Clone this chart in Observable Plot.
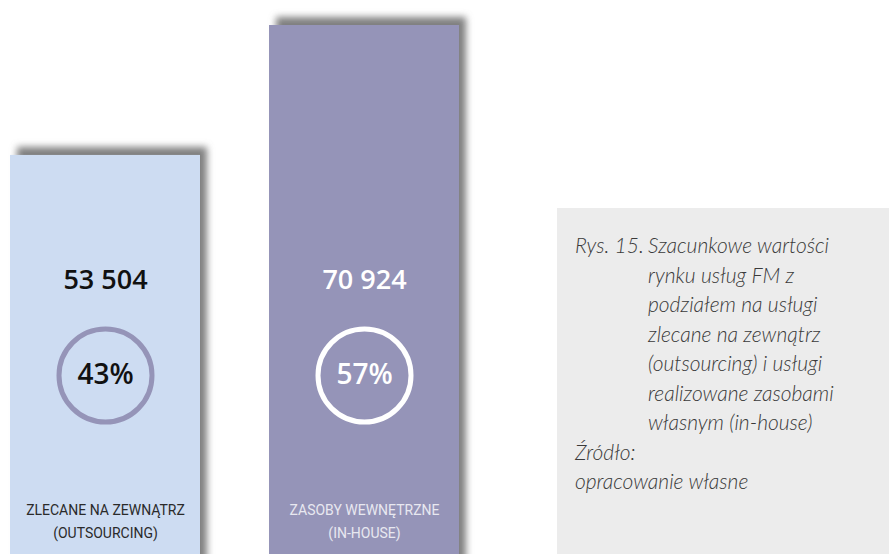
<!DOCTYPE html>
<html>
<head>
<meta charset="utf-8">
<script src="https://cdn.jsdelivr.net/npm/d3@7"></script>
<script src="https://cdn.jsdelivr.net/npm/@observablehq/plot@0.6"></script>
<style>
  body { margin: 0; background: #fff; }
  #wrap { position: relative; width: 889px; height: 554px; overflow: hidden; }
  #wrap svg { position: absolute; left: 0; top: 0; }
  #cap {
    position: absolute; left: 557px; top: 208px; width: 332px; height: 346px;
    background: #ececec; box-sizing: border-box; padding: 22px 0 0 18px;
    font-family: Lato, "Open Sans", sans-serif; font-style: italic; font-weight: 300;
    font-size: 21px; line-height: 29.5px; color: #3a3a3a;
  }
  #cap .row { display: flex; }
  #cap .lab { width: 73px; flex: none; white-space: nowrap; }
</style>
</head>
<body>
<div id="wrap">
  <div id="cap">
    <div class="row"><span class="lab">Rys. 15.</span><span id="capText"></span></div>
    <div id="capSource"></div>
  </div>
</div>
<script>
const categories = ["outsourcing", "in-house"];
const values = [53504, 70924];
const valueLabels = ["53 504", "70 924"];
const shares = ["43%", "57%"];
const categoryLabels = ["ZLECANE NA ZEWNĄTRZ\n(OUTSOURCING)", "ZASOBY WEWNĘTRZNE\n(IN-HOUSE)"];
const barColors = ["#cddcf2", "#9594b8"];
const numberColors = ["#111111", "#ffffff"];
const ringColors = ["#9594b8", "#ffffff"];
const labelColors = ["#2a2a2a", "#e8e8f0"];
const captionLines = ["Szacunkowe wartości", "rynku usług FM z", "podziałem na usługi", "zlecane na zewnątrz", "(outsourcing) i usługi", "realizowane zasobami", "własnym (in-house)"];
const sourceLines = ["Źródło:", "opracowanie własne"];

document.getElementById("capText").innerHTML = captionLines.join("<br>");
document.getElementById("capSource").innerHTML = sourceLines.join("<br>");

const data = categories.map((c, i) => ({
  c, v: values[i], vl: valueLabels[i], s: shares[i], lab: categoryLabels[i],
  bar: barColors[i], num: numberColors[i], ring: ringColors[i], lc: labelColors[i]
}));

const chart = Plot.plot({
  width: 889, height: 554,
  marginLeft: 10, marginRight: 430, marginTop: 25, marginBottom: 0,
  style: { fontFamily: "Open Sans, sans-serif", background: "transparent" },
  x: { type: "band", domain: categories, paddingInner: 69 / 259, paddingOuter: 0, axis: null },
  y: { domain: [0, 70924], axis: null },
  color: { type: "identity" },
  marks: [
    Plot.barY(data, { x: "c", y: "v", fill: "#808080", dx: 7, dy: -8, insetBottom: -30 }),
    Plot.barY(data, { x: "c", y: "v", fill: "bar" }),
    Plot.text(data, { x: "c", text: "vl", frameAnchor: "bottom", lineAnchor: "middle", dy: -274, fill: "num", fontSize: 27, fontWeight: 600 }),
    Plot.dot(data, { x: "c", frameAnchor: "bottom", dy: -179, r: 46.5, stroke: "ring", strokeWidth: 5, fill: "none" }),
    Plot.text(data, { x: "c", text: "s", frameAnchor: "bottom", lineAnchor: "middle", dy: -179, fill: "num", fontSize: 28, fontWeight: 600 }),
    Plot.text(data, { x: "c", text: "lab", frameAnchor: "bottom", lineAnchor: "middle", dy: -35, lineHeight: 1.65, fill: "lc", fontSize: 14, fontFamily: "Roboto", fontWeight: 400 })
  ]
});
const svg = d3.select(chart);
svg.insert("defs", ":first-child").append("filter")
  .attr("id", "barShadow").attr("x", "-20%").attr("y", "-20%").attr("width", "140%").attr("height", "140%")
  .append("feGaussianBlur").attr("stdDeviation", 3.5);
const barGroups = svg.selectAll('g[aria-label="bar"]').nodes();
d3.select(barGroups[0]).attr("filter", "url(#barShadow)");
document.getElementById("wrap").prepend(chart);
</script>
</body>
</html>
